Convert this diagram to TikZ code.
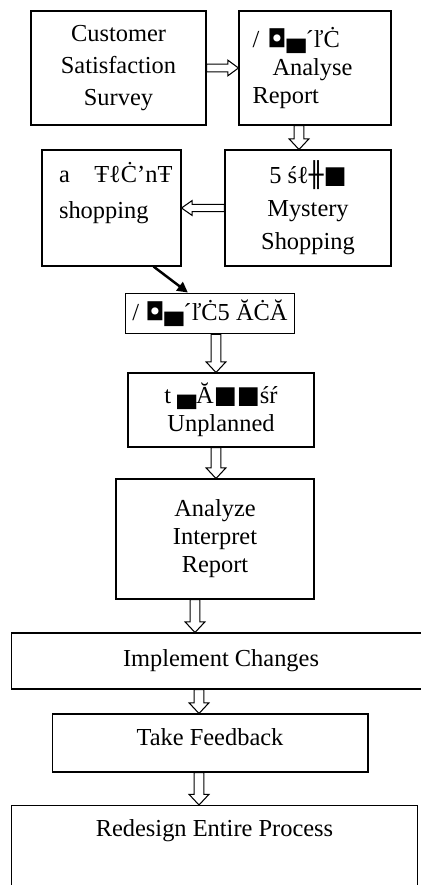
\documentclass[tikz,border=0pt]{standalone}
\usepackage{fontspec}
\setmainfont{Liberation Serif}
\newfontfamily\boxglyphs{DejaVu Sans}
\usepackage{tikz}
\usetikzlibrary{arrows.meta}
\usetikzlibrary{calc}
\usetikzlibrary{positioning}

% hollow block arrow from #2 to #3, #1 = half width of the shaft
\newcommand{\blockarrow}[3][2.8pt]{%
  \path ($(#3)!6pt!(#2)$) coordinate (ba-h);
  \filldraw [hollow] ($(#2)!#1!90:(#3)$) -- ($(ba-h)!#1!90:(#3)$)
  -- ($(ba-h)!2*#1!90:(#3)$) -- (#3) -- ($(ba-h)!2*#1!-90:(#3)$)
  -- ($(ba-h)!#1!-90:(#3)$) -- ($(#2)!#1!-90:(#3)$) -- cycle;
}

\begin{document}
\begin{tikzpicture}[
    x=0.02cm, y=-0.02cm,
    stage/.style={draw, line width=0.6pt, align=center, inner sep=4pt,
      font=\fontsize{13.9}{16}\selectfont},
    hollow/.style={draw=black, fill=white, line width=0.6pt},
    pointer/.style={line width=1.4pt, -{Triangle[length=6pt, width=6pt]}}]

    \path [use as bounding box, clip] (0, 0) rectangle (421, 885);

    \node [stage, minimum width=3.5cm, minimum height=2.28cm,
    font=\fontsize{13.9}{18.2}\selectfont] (survey) at (118.5, 68)
    {Customer\\ Satisfaction\\ Survey};
    \node [stage, minimum width=3.04cm, minimum height=2.28cm,
    text width=2.5cm, align=left] (analyse) at (315, 68)
    {/ {\boxglyphs ◘▄}´ľĊ\\ \hspace*{0.4cm}Analyse\\ Report};

    \node [stage, minimum width=2.78cm, minimum height=2.32cm,
    text width=2.1cm, align=left, font=\fontsize{13.9}{20}\selectfont]
    (shop) at (111.5, 208) {a~~~ŦℓĊ’nŦ\\ shopping\\ \mbox{}};
    \node [stage, minimum width=3.32cm, minimum height=2.32cm,
    font=\fontsize{13.9}{18.8}\selectfont] (mystery) at (308, 208)
    {5 śℓ{\boxglyphs ╫■}\\ Mystery\\ Shopping};

    \node [stage, minimum width=3.28cm, minimum height=0.78cm]
    (data) at (210, 313.5) {/ {\boxglyphs ◘▄}´ľĊ5 ĂĊĂ};
    \node [stage, minimum width=3.72cm, minimum height=1.48cm]
    (unplanned) at (221, 410) {t {\boxglyphs ▄}Ă{\boxglyphs ■■}śŕ\\ Unplanned};
    \node [stage, minimum width=3.96cm, minimum height=2.4cm]
    (interpret) at (215, 539) {Analyze\\ Interpret\\ Report};

    \node [stage, minimum width=8.4cm, minimum height=1.12cm]
    (implement) at (221, 661) {Implement Changes};
    \node [stage, minimum width=6.32cm, minimum height=1.16cm, text depth=7pt]
    (feedback) at (210, 743) {Take Feedback};
    \node [stage, anchor=north, minimum width=8.14cm, text height=13.6pt,
    text depth=32pt] (redesign) at (214.5, 805) {Redesign Entire Process};

    \blockarrow[2.2pt]{survey.east}{analyse.west}
    \blockarrow[2.1pt]{mystery.west}{shop.east}

    \foreach \src/\dst/\dx in {analyse/mystery/-16, data/unplanned/6,
      unplanned/interpret/-5, interpret/implement/-20,
      implement/feedback/-22, feedback/redesign/-11} {
      \coordinate (\src-out) at ($(\src.south)+(\dx, 0)$);
      \coordinate (\dst-in) at (\src-out |- \dst.north);
      \blockarrow{\src-out}{\dst-in}
    }

    \draw [pointer] ($(shop.south west)!0.8!(shop.south east)$)
    -- ($(data.north west)!0.37!(data.north east)$);

  \end{tikzpicture}
\end{document}
